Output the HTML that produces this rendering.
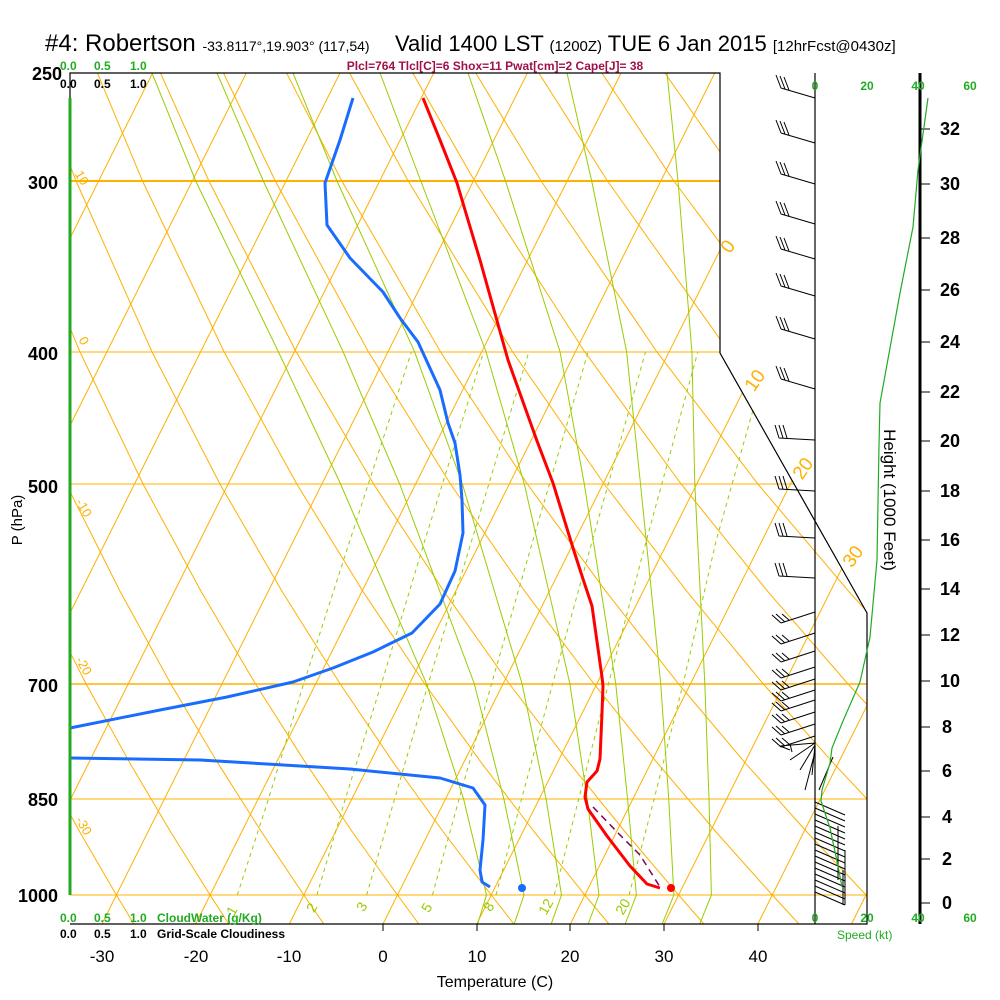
<!DOCTYPE html>
<html><head><meta charset="utf-8"><style>
html,body{margin:0;padding:0;background:#fff;}
svg{display:block;font-family:"Liberation Sans",sans-serif;}
</style></head><body>
<svg width="1000" height="1000" viewBox="0 0 1000 1000" xmlns="http://www.w3.org/2000/svg">
<defs>
<clipPath id="cp"><polygon points="70,73 720,73 720,353 867,613 867,924 70,924"/></clipPath>
<path id="b1" d="M815,0 L781,-10 M781,-10 l-5,-13 M785,-9 l-5,-13 M789,-8 l-5,-13"/>
<path id="b2" d="M815,0 L779,-2 M779,-2 l-4,-13 M783,-2 l-4,-13 M787,-2 l-4,-13"/>
<path id="b3" d="M815,0 L781,11 M781,11 l-9,-8 M785,10 l-9,-8 M789,8 l-7,-6"/>
<path id="b4" d="M815,0 L845,13"/>
</defs>
<g clip-path="url(#cp)" fill="none" stroke-width="1">
<g stroke="#ffb000">
<line x1="70" y1="181" x2="867" y2="181" stroke-width="2"/>
<line x1="70" y1="352" x2="867" y2="352"/>
<line x1="70" y1="484" x2="867" y2="484"/>
<line x1="70" y1="684" x2="867" y2="684" stroke-width="1.6"/>
<line x1="70" y1="799" x2="867" y2="799"/>
<line x1="70" y1="895" x2="867" y2="895"/>
</g>
<path stroke="#ffb000" d="M-272.9,924L152.6,73 M-179.2,924L246.3,73 M-85.5,924L340,73 M8.2,924L433.7,73 M101.9,924L527.4,73 M195.6,924L621.1,73 M289.3,924L714.8,73 M383,924L808.5,73 M476.7,924L902.2,73 M570.4,924L995.9,73 M664.1,924L1089.6,73 M757.8,924L1183.3,73 M851.5,924L1277,73"/>
<path stroke="#ffb000" d="
M38.8,924L22.7,895L-10.9,832.5L-46.2,762.7
M133.8,924L116.4,895L80.1,832.5L41.8,762.7L1.4,683.5L-41.5,592.1
M228.8,924L210.1,895L171,832.5L129.7,762.7L85.9,683.5L39.5,592.1L-10.7,484
M323.8,924L303.8,895L261.9,832.5L217.6,762.7L170.6,683.5L120.5,592.1L66.2,484L7.7,351.6L-56.8,181
M418.8,924L397.5,895L352.8,832.5L305.5,762.7L255.2,683.5L201.5,592.1L143,484L79.8,351.6L9.6,181L-28.7,73
M513.9,924L491.2,895L443.7,832.5L393.4,762.7L339.9,683.5L282.5,592.1L219.9,484L151.9,351.6L76.1,181L34.4,73
M608.9,924L584.9,895L534.7,832.5L481.3,762.7L424.5,683.5L363.4,592.1L296.8,484L224,351.6L142.5,181L97.4,73
M703.9,924L678.6,895L625.6,832.5L569.2,762.7L509.1,683.5L444.4,592.1L373.6,484L296.1,351.6L208.9,181L160.5,73
M798.9,924L772.3,895L716.5,832.5L657.1,762.7L593.7,683.5L525.4,592.1L450.5,484L368.3,351.6L275.3,181L223.5,73
M893.9,924L866,895L807.4,832.5L745,762.7L678.3,683.5L606.4,592.1L527.3,484L440.4,351.6L341.8,181L286.6,73
M988.9,924L959.7,895L898.3,832.5L833,762.7L762.9,683.5L687.4,592.1L604.2,484L512.5,351.6L408.2,181L349.6,73
M1053.4,895L989.3,832.5L920.9,762.7L847.6,683.5L768.3,592.1L681.1,484L584.6,351.6L474.6,181L412.7,73
M1080.2,832.5L1008.8,762.7L932.2,683.5L849.3,592.1L757.9,484L656.7,351.6L541.1,181L475.7,73
M1096.7,762.7L1016.8,683.5L930.3,592.1L834.8,484L728.9,351.6L607.5,181L538.8,73
M1101.4,683.5L1011.3,592.1L911.6,484L801,351.6L673.9,181L601.8,73
M1092.3,592.1L988.5,484L873.1,351.6L740.3,181L664.9,73
M1065.4,484L945.2,351.6L806.8,181L727.9,73
M1017.3,351.6L873.2,181L791,73
M939.6,181L854,73"/>
<path stroke="#99cc00" d="
M477.6,924L486.5,895L463.5,798.6L426.4,683.5L340.6,484L278.3,351.6L195.7,181L152,73
M514.2,924L524,895L503.8,798.6L474.2,683.5L399.7,484L343,351.6L263.3,181L217,73
M551.2,924L561.5,895L546,798.6L522,683.5L462.4,484L414.5,351.6L337,181L293,73
M588.2,924L599,895L587.2,798.6L569.8,683.5L524.3,484L486,351.6L420.8,181L380,73
M625.2,924L636.4,895L627.5,798.6L615.7,683.5L584.3,484L560,351.6L505.5,181L468,73
M662.2,924L673.9,895L668.7,798.6L660.7,683.5L640.5,484L626.6,351.6L591.7,181L567,73
M699.7,924L711.4,895L709,798.6L704.8,683.5L694.8,484L691.9,351.6L678,181L667,73"/>
<path stroke="#99cc00" stroke-dasharray="4,4" d="
M237.3,895L268.6,798.6L303.7,683.5L349.9,540.5L411.5,351.6
M316.9,895L345.4,798.6L381.5,683.5L424.8,540.5L483.7,351.6
M366.6,895L394.7,798.6L428.3,683.5L471.7,540.5L528.9,351.6
M432.4,895L459.2,798.6L491.6,683.5L532.9,540.5L588.2,351.6
M496,895L521.7,798.6L552.7,683.5L592.3,540.5L645.6,351.6
M554.3,895L578.8,798.6L608.5,683.5L646.4,540.5L697.9,351.6
M629.1,895L654.2,798.6L683.2,683.5L716.2,540.5L769.5,351.6"/>
</g>
<polyline fill="none" stroke="#ff0000" stroke-width="3" stroke-linejoin="round" points="423,98 440,140 457,183 468,220 480,260 494,310 508,360 537,441 553,483 573,548 583,579 592,606 602,677 603,686 602,713 600,759 597,771 587,782 585,797 588,809 607,836 630,866 647,884 660,888"/>
<polyline fill="none" stroke="#800060" stroke-width="1.5" stroke-dasharray="7,5" points="593,807 620,835 640,855 660,887"/>
<polyline fill="none" stroke="#1a6cff" stroke-width="3" stroke-linejoin="round" points="353,98 340,140 325,183 327,225 350,258 383,292 400,318 418,342 440,390 448,423 455,443 460,475 462,500 463,533 455,571 440,604 412,633 373,652 333,668 293,682 227,697 160,710 70,728"/>
<polyline fill="none" stroke="#1a6cff" stroke-width="3" stroke-linejoin="round" points="70,758 200,760 350,769 440,778 473,788 485,805 483,840 480,870 482,882 490,887"/>
<circle cx="522" cy="888" r="4" fill="#1a6cff"/>
<circle cx="671" cy="888" r="4" fill="#ff0000"/>
<polyline points="70,98 70,73 720,73 720,353 867,613 867,924 70,924" fill="none" stroke="#000" stroke-width="1.2"/>
<line x1="70" y1="98" x2="70" y2="895" stroke="#22aa22" stroke-width="3"/>
<line x1="815" y1="73" x2="815" y2="924" stroke="#000" stroke-width="1.2"/>
<line x1="920" y1="73" x2="920" y2="924" stroke="#000" stroke-width="3"/>
<g stroke="#000" fill="none" stroke-width="1">
<use href="#b1" y="98"/><use href="#b1" y="143"/><use href="#b1" y="184"/><use href="#b1" y="224"/><use href="#b1" y="259"/><use href="#b1" y="296"/><use href="#b1" y="339"/><use href="#b1" y="389"/>
<use href="#b2" y="440"/><use href="#b2" y="491"/><use href="#b2" y="538"/><use href="#b2" y="578"/>
<use href="#b3" y="612"/><use href="#b3" y="633"/><use href="#b3" y="651"/><use href="#b3" y="667"/><use href="#b3" y="679"/><use href="#b3" y="690"/><use href="#b3" y="700"/><use href="#b3" y="712"/><use href="#b3" y="724"/><use href="#b3" y="736"/>
<path d="M815,743L780,746 M815,743L790,760 M815,745L800,770 M815,745L812,775 M780,746L790,750 M790,744L792,752 M815,752L805,790 M833,757L819,790 M815,770L815,790"/>
<use href="#b4" y="802"/><use href="#b4" y="808"/><use href="#b4" y="814"/><use href="#b4" y="820"/><use href="#b4" y="826"/><use href="#b4" y="832"/><use href="#b4" y="838"/><use href="#b4" y="844"/><use href="#b4" y="850"/><use href="#b4" y="856"/><use href="#b4" y="862"/><use href="#b4" y="868"/><use href="#b4" y="874"/><use href="#b4" y="880"/><use href="#b4" y="886"/><use href="#b4" y="892"/>
<path d="M838,826L838,880 M843,870L843,905 M845,850L845,905"/>
<path d="M920,903h10M920,859h10M920,817h10M920,771h10M920,727h10M920,681h10M920,635h10M920,589h10M920,540h10M920,491h10M920,441h10M920,392h10M920,342h10M920,290h10M920,238h10M920,184h10M920,129h10"/>
</g>
<g font-size="18" fill="#000" font-weight="bold">
<text x="942" y="909">0</text><text x="942" y="865">2</text><text x="942" y="823">4</text><text x="942" y="777">6</text><text x="942" y="733">8</text><text x="940" y="687">10</text><text x="940" y="641">12</text><text x="940" y="595">14</text><text x="940" y="546">16</text><text x="940" y="497">18</text><text x="940" y="447">20</text><text x="940" y="398">22</text><text x="940" y="348">24</text><text x="940" y="296">26</text><text x="940" y="244">28</text><text x="940" y="190">30</text><text x="940" y="135">32</text>
</g>
<text x="45" y="51" font-size="24">#4: Robertson <tspan font-size="14">-33.8117°,19.903° (117,54)</tspan></text>
<text x="395" y="51" font-size="22">Valid 1400 LST <tspan font-size="15">(1200Z)</tspan> TUE 6 Jan 2015 <tspan font-size="15">[12hrFcst@0430z]</tspan></text>
<text x="495" y="70" font-size="12" fill="#a0104a" text-anchor="middle" font-weight="bold">Plcl=764 Tlcl[C]=6 Shox=11 Pwat[cm]=2 Cape[J]= 38</text>
<g font-size="12" font-weight="bold">
<text x="60" y="70" fill="#22aa22">0.0</text><text x="94" y="70" fill="#22aa22">0.5</text><text x="130" y="70" fill="#22aa22">1.0</text>
<text x="60" y="88" fill="#000">0.0</text><text x="94" y="88" fill="#000">0.5</text><text x="130" y="88" fill="#000">1.0</text>
<text x="60" y="922" fill="#22aa22">0.0</text><text x="94" y="922" fill="#22aa22">0.5</text><text x="130" y="922" fill="#22aa22">1.0</text><text x="157" y="922" fill="#22aa22">CloudWater (g/Kg)</text>
<text x="60" y="938" fill="#000">0.0</text><text x="94" y="938" fill="#000">0.5</text><text x="130" y="938" fill="#000">1.0</text><text x="157" y="938" fill="#000">Grid-Scale Cloudiness</text>
<text x="815" y="90" fill="#22aa22" text-anchor="middle">0</text><text x="867" y="90" fill="#22aa22" text-anchor="middle">20</text><text x="918" y="90" fill="#22aa22" text-anchor="middle">40</text><text x="970" y="90" fill="#22aa22" text-anchor="middle">60</text>
<text x="815" y="922" fill="#22aa22" text-anchor="middle">0</text><text x="867" y="922" fill="#22aa22" text-anchor="middle">20</text><text x="918" y="922" fill="#22aa22" text-anchor="middle">40</text><text x="970" y="922" fill="#22aa22" text-anchor="middle">60</text>
<text x="837" y="939" fill="#22aa22" font-weight="normal">Speed (kt)</text>
</g>
<g font-size="18" font-weight="bold" text-anchor="end">
<text x="62" y="80">250</text><text x="58" y="189">300</text><text x="58" y="360">400</text><text x="58" y="493">500</text><text x="58" y="692">700</text><text x="58" y="806">850</text><text x="58" y="902">1000</text>
</g>
<text transform="translate(22,520) rotate(-90)" font-size="15" text-anchor="middle">P (hPa)</text>
<g font-size="17" text-anchor="middle">
<text x="102" y="962">-30</text><text x="196" y="962">-20</text><text x="289" y="962">-10</text><text x="383" y="962">0</text><text x="477" y="962">10</text><text x="570" y="962">20</text><text x="664" y="962">30</text><text x="758" y="962">40</text>
</g>
<g stroke="#000"><line x1="383" y1="924" x2="383" y2="931"/><line x1="477" y1="924" x2="477" y2="931"/><line x1="570" y1="924" x2="570" y2="931"/><line x1="664" y1="924" x2="664" y2="931"/><line x1="758" y1="924" x2="758" y2="931"/></g>
<text x="495" y="987" font-size="16" text-anchor="middle">Temperature (C)</text>
<text transform="translate(884,500) rotate(90)" font-size="17" text-anchor="middle">Height (1000 Feet)</text>
<g fill="#ffb000" font-size="19">
<text transform="translate(733,250) rotate(-55)" text-anchor="middle">0</text>
<text transform="translate(760,384) rotate(-55)" text-anchor="middle">10</text>
<text transform="translate(808,472) rotate(-55)" text-anchor="middle">20</text>
<text transform="translate(858,560) rotate(-55)" text-anchor="middle">30</text>
</g>
<g fill="#ffb000" font-size="13">
<text transform="translate(78,180) rotate(60)" text-anchor="middle">10</text>
<text transform="translate(80,343) rotate(60)" text-anchor="middle">0</text>
<text transform="translate(80,510) rotate(60)" text-anchor="middle">-10</text>
<text transform="translate(80,668) rotate(60)" text-anchor="middle">-20</text>
<text transform="translate(80,828) rotate(60)" text-anchor="middle">-30</text>
</g>
<g fill="#99cc00" font-size="14">
<text transform="translate(236,913) rotate(-60)" text-anchor="middle">1</text>
<text transform="translate(316,910) rotate(-60)" text-anchor="middle">2</text>
<text transform="translate(366,909) rotate(-60)" text-anchor="middle">3</text>
<text transform="translate(431,910) rotate(-60)" text-anchor="middle">5</text>
<text transform="translate(493,909) rotate(-60)" text-anchor="middle">8</text>
<text transform="translate(550,909) rotate(-60)" text-anchor="middle">12</text>
<text transform="translate(627,909) rotate(-60)" text-anchor="middle">20</text>
</g>
<polyline fill="none" stroke="#22aa22" stroke-width="1.2" points="928,98 918,170 913,227 900,293 880,403 879,445 877,560 870,637 860,682 843,721 832,748 830,763 822,790 821,801 830,828 838,866 842,887"/>
</svg>
</body></html>
